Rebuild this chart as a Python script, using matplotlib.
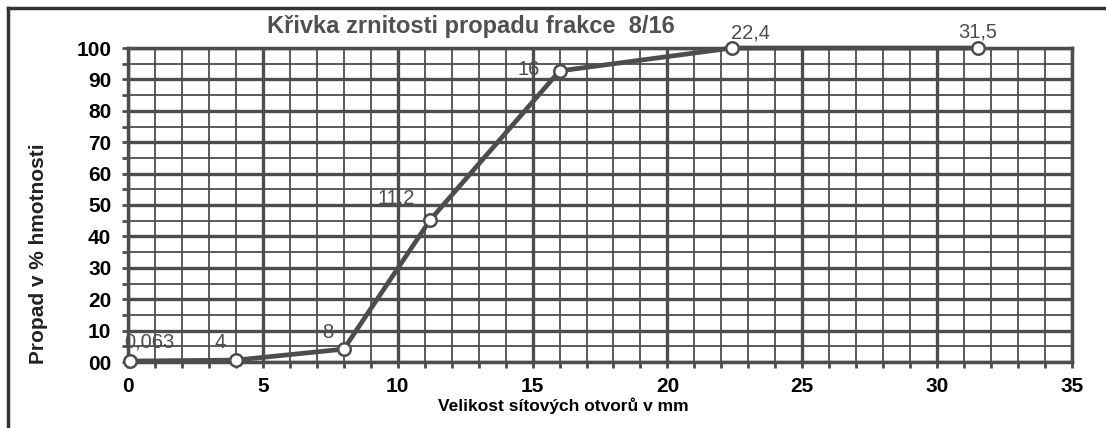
import numpy as np
import matplotlib.pyplot as plt
from matplotlib.lines import Line2D

plt.rcParams['font.family'] = ['Liberation Sans', 'DejaVu Sans']

# sieve sizes (mm) and passing (%)
sieve = [0.063, 4, 8, 11.2, 16, 22.4, 31.5]
passing = [0.3, 0.6, 4.1, 45.2, 92.7, 100, 100]
labels = ['0,063', '4', '8', '11,2', '16', '22,4', '31,5']
# label offsets in points (dx, dy)
offs = [(14, 14), (-11.5, 13), (-11.5, 12), (-24.5, 16), (-22, 1), (13, 11), (0, 11.5)]

ytick_vals = [0, 10, 20, 30, 40, 50, 60, 70, 80, 90, 100]
ytick_lbls = ['00', '10', '20', '30', '40', '50', '60', '70', '80', '90', '100']
xtick_vals = [0, 5, 10, 15, 20, 25, 30, 35]

grey = '#4d4d4d'

fig = plt.figure(figsize=(11.06, 4.28), dpi=100)
ax = fig.add_axes([128 / 1106, 66 / 428, 944 / 1106, 314 / 428])

ax.set_xlim(0, 35)
ax.set_ylim(0, 100)

ax.set_xticks(xtick_vals)
ax.set_xticks(np.arange(0, 36, 1), minor=True)
ax.set_yticks(ytick_vals)
ax.set_yticklabels(ytick_lbls)
ax.set_yticks(np.arange(0, 101, 5), minor=True)

ax.grid(which='major', color=grey, lw=2.4)
ax.grid(which='minor', color=grey, lw=1.3)
ax.set_axisbelow(True)
for s in ax.spines.values():
    s.set_color(grey)
    s.set_linewidth(2.5)

ax.tick_params(which='both', direction='out', color=grey, width=2, length=4)
ax.tick_params(axis='both', labelsize=15)
ax.tick_params(axis='x', pad=7)
ax.tick_params(axis='y', pad=8)
for t in ax.get_xticklabels() + ax.get_yticklabels():
    t.set_fontweight('bold')

ax.plot(sieve, passing, color=grey, lw=3.4, marker='o', ms=9,
        mfc='white', mec=grey, mew=1.8, clip_on=False, zorder=5)

for x, y, lab, (dx, dy) in zip(sieve, passing, labels, offs):
    ax.annotate(lab, (x, y), xytext=(dx, dy), textcoords='offset points',
                ha='center', va='center',
                fontsize=14.5, color=grey, zorder=6, annotation_clip=False)

ax.set_xlabel('Velikost sítových otvorů v mm', fontsize=12.5, fontweight='bold')
ax.xaxis.set_label_coords((563 - 128) / 944, -35 / 314)
ax.set_ylabel('Propad v % hmotnosti', fontsize=15, fontweight='bold',
              color='#222222')
ax.yaxis.set_label_coords(-80 / 944, (362 - 254) / 314)

fig.text(471 / 1106, 1 - 27 / 428, 'Křivka zrnitosti propadu frakce  8/16',
         ha='center', va='center', fontsize=17, fontweight='bold',
         color='#505050')

# outer frame
fig.add_artist(Line2D([0.0075, 0.0075], [0, 0.981], color='#333333', lw=2.5))
fig.add_artist(Line2D([0.0075, 1], [0.981, 0.981], color='#333333', lw=2.5))

fig.savefig('out.png', dpi=100)
